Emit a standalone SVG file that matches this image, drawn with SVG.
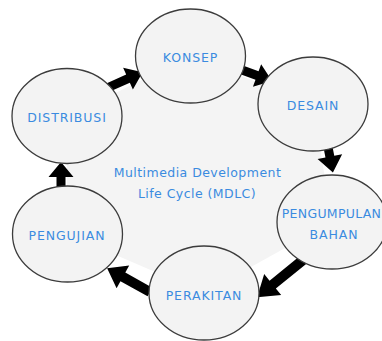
<svg xmlns="http://www.w3.org/2000/svg" width="382" height="341" viewBox="0 0 382 341">
<style>
.node ellipse{fill:#f3f3f3;stroke:#3c3c3c;stroke-width:1.3}
.lbl{font-family:"DejaVu Sans",Verdana,sans-serif;font-size:12.5px;fill:#3a8be0;text-anchor:middle;letter-spacing:0.9px}
.ctr{font-family:"DejaVu Sans",Verdana,sans-serif;font-size:12.5px;fill:#3a8be0;text-anchor:middle;letter-spacing:0.45px}
.arr{fill:#000}
</style>
<rect width="382" height="341" fill="#fff"/>
<polygon points="190,56 313,104 332,222 204,293 67,234 67,117" fill="#f4f4f4"/>
<g id="connectors">
<polygon class="arr" transform="translate(107,88) rotate(-24)" points="0,-4.5 23,-4.5 23,-12 39,0 23,12 23,4.5 0,4.5"/>
<polygon class="arr" transform="translate(242,70) rotate(20)" points="0,-4.5 16,-4.5 16,-12 32,0 16,12 16,4.5 0,4.5"/>
<polygon class="arr" transform="translate(327,142) rotate(79)" points="0,-4.5 15,-4.5 15,-12.5 31,0 15,12.5 15,4.5 0,4.5"/>
<polygon class="arr" transform="translate(303,260) rotate(141)" points="0,-5 39,-5 39,-13.5 59,0 39,13.5 39,5 0,5"/>
<polygon class="arr" transform="translate(150,292) rotate(-151)" points="0,-5 31,-5 31,-13 49,0 31,13 31,5 0,5"/>
<polygon class="arr" transform="translate(61,188) rotate(-90)" points="0,-4.5 11,-4.5 11,-12.5 26,0 11,12.5 11,4.5 0,4.5"/>
</g>
<g id="konsep" class="node"><ellipse cx="190.5" cy="56" rx="55" ry="47"/><text class="lbl" x="190.5" y="62">KONSEP</text></g>
<g id="desain" class="node"><ellipse cx="313" cy="104" rx="55" ry="47"/><text class="lbl" x="313" y="110">DESAIN</text></g>
<g id="pengumpulan" class="node"><ellipse cx="332" cy="222" rx="55" ry="47"/><text class="lbl" x="331.5" y="218" style="letter-spacing:0.3px">PENGUMPULAN</text><text class="lbl" x="334" y="239">BAHAN</text></g>
<g id="perakitan" class="node"><ellipse cx="204" cy="293" rx="55" ry="47"/><text class="lbl" x="204" y="300">PERAKITAN</text></g>
<g id="pengujian" class="node"><ellipse cx="67.5" cy="234" rx="55" ry="48"/><text class="lbl" x="67" y="240">PENGUJIAN</text></g>
<g id="distribusi" class="node"><ellipse cx="67" cy="116" rx="55" ry="47.5"/><text class="lbl" x="67" y="122">DISTRIBUSI</text></g>
<g id="title"><text class="ctr" x="197.5" y="177">Multimedia Development</text><text class="ctr" x="197" y="198">Life Cycle (MDLC)</text></g>
</svg>
